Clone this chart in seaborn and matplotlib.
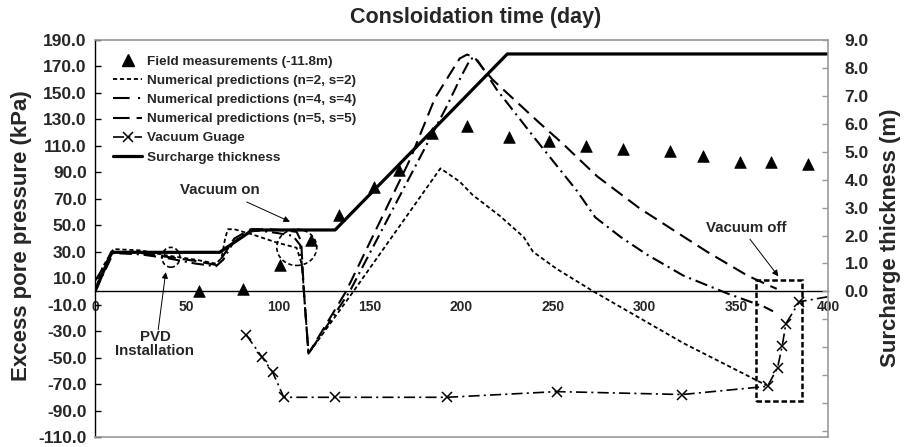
import numpy as np
import pandas as pd
import matplotlib
matplotlib.use("Agg")
import matplotlib.pyplot as plt
from matplotlib.lines import Line2D
from matplotlib.patches import Ellipse, Rectangle
import seaborn as sns

# ---- data -------------------------------------------------------------
field_day = [57, 81, 101, 118, 133, 152, 166, 184, 203, 226, 248, 268, 288, 314, 332, 352, 369, 389]
field_kpa = [0, 2, 20, 39, 58, 79, 92, 120, 125, 117, 114, 110, 108, 106, 102, 98, 98, 96]

n2_day = [0, 4, 10, 25, 40, 55, 66, 69, 71, 72.5, 76, 86, 99, 110, 113, 114.5, 116.5,
          141, 188.5, 199, 206, 221, 234, 239, 252, 272, 321, 366.5]
n2_kpa = [0, 18, 32, 31, 27, 24, 21, 25, 40, 47, 47, 43, 37, 33, 20, -10, -47,
          0, 93, 83, 73, 57, 41, 30, 17, 0, -39, -71]

n4_day = [0, 10, 25, 40, 55, 66, 70, 75, 82, 90, 100, 108, 112, 114, 116.5, 139, 192, 200,
          205, 208, 212, 219, 241, 263, 273, 287, 301, 321, 345, 352, 365, 370]
n4_kpa = [0, 29, 28, 25, 21, 19, 24, 36, 45, 46, 44, 42, 35, 0, -47, 0, 140, 163,
          176, 176, 168, 153, 114, 76, 56, 41, 28, 12, -1.5, -5, -11.5, -15]

n5_day = [0, 10, 25, 40, 55, 66, 70, 76, 85, 95, 105, 110, 112.5, 114, 116.5, 137, 172, 185.5,
          194, 199, 203, 207, 212, 217, 242, 255, 274, 297, 316, 334, 356, 367, 372]
n5_kpa = [8, 30, 29, 26, 23, 20, 27, 40, 47, 47, 46, 45, 38, 0, -47, 0, 100, 146,
          165, 176, 179, 177, 168, 160, 128, 112, 87, 63, 46, 30, 12, 5, 2]

vac_day = [82.4, 91, 97, 103, 131, 192, 252, 320.5, 367, 372.5, 375, 377, 384.4, 400]
vac_kpa = [-32.6, -49.3, -61.2, -80, -80, -80, -75.7, -77.9, -71.7, -57.5, -41.3, -24.4, -7.8, -4]

sur_day = [0, 9, 68, 86, 131, 225, 400]
sur_m = [0, 1.4, 1.4, 2.2, 2.2, 8.5, 8.5]

left_ticks = list(range(-110, 191, 20))
right_ticks = list(range(-5, 10))
x_ticks = list(range(0, 401, 50))

legend_labels = [
    "Field measurements (-11.8m)",
    "Numerical predictions (n=2, s=2)",
    "Numerical predictions (n=4, s=4)",
    "Numerical predictions (n=5, s=5)",
    "Vacuum Guage",
    "Surcharge thickness",
]

# ---- style ------------------------------------------------------------
sns.set_style("white")
plt.rcParams["font.family"] = ["Liberation Sans", "DejaVu Sans"]
plt.rcParams["font.weight"] = "bold"
plt.rcParams["lines.scale_dashes"] = False

K = "black"
GRAY = "#9a9a9a"
S_N2 = (0, (3, 2))
S_N4 = (0, (9, 3.5, 1.5, 3.5))
S_N5 = (0, (10, 5))
S_VAC = (0, (8, 3, 1.5, 3))

fig = plt.figure(figsize=(9.13, 4.47), dpi=100)
ax = fig.add_axes([95 / 913, 10 / 447, 733 / 913, 397 / 447])
ax2 = ax.twinx()

# ---- pore pressure (left axis) ---------------------------------------
sns.lineplot(x=n2_day, y=n2_kpa, ax=ax, sort=False, estimator=None,
             color=K, lw=1.3, linestyle=S_N2)
sns.lineplot(x=n4_day, y=n4_kpa, ax=ax, sort=False, estimator=None,
             color=K, lw=1.5, linestyle=S_N4)
sns.lineplot(x=n5_day, y=n5_kpa, ax=ax, sort=False, estimator=None,
             color=K, lw=1.5, linestyle=S_N5)
sns.lineplot(x=vac_day, y=vac_kpa, ax=ax, sort=False, estimator=None,
             color=K, lw=1.2, linestyle=S_VAC, marker="x", markersize=7,
             markeredgewidth=1.1, markeredgecolor=K,
             markevery=list(range(len(vac_day) - 1)))
sns.scatterplot(x=field_day, y=field_kpa, ax=ax, marker="^", s=70,
                color=K, edgecolor=K, linewidth=0.5, zorder=5)

# ---- surcharge (right axis) ------------------------------------------
sns.lineplot(x=sur_day, y=sur_m, ax=ax2, sort=False, estimator=None,
             color=K, lw=2.3)

# ---- axes ---------------------------------------------------------------
ax.set_xlim(0, 400)
ax.set_ylim(-110, 190)
ax2.set_ylim(-110 * 9 / 190, 9)

ax.set_xticks(x_ticks)
ax.set_xticklabels([str(v) for v in x_ticks], fontsize=9.5, fontweight="bold")
ax.set_yticks(left_ticks)
ax.set_yticklabels([f"{v:.1f}" for v in left_ticks], fontsize=12.5, fontweight="bold")
ax2.set_yticks(right_ticks)
ax2.set_yticklabels([f"{v:.1f}" if v >= 0 else "" for v in right_ticks],
                    fontsize=12.5, fontweight="bold")

ax.spines["bottom"].set_position(("data", 0))
ax.spines["bottom"].set_color(K)
ax.spines["bottom"].set_linewidth(1.0)
ax.spines["left"].set_color(K)
ax.spines["left"].set_linewidth(1.0)
ax.spines["top"].set_visible(False)
ax.spines["right"].set_visible(False)
for side in ("top", "right", "bottom"):
    ax2.spines[side].set_color(GRAY)
    ax2.spines[side].set_linewidth(1.2)
ax2.spines["left"].set_visible(False)

ax.tick_params(axis="x", direction="inout", length=8, width=1, color=GRAY, pad=2)
ax.tick_params(axis="y", direction="in", length=4, width=1, color=K, pad=6)
ax2.tick_params(axis="y", direction="in", length=4, width=1, color=GRAY, pad=12)
ax.set_xlabel("")
ax.set_ylabel("")
ax2.set_ylabel("")

fig.text(22 / 913, 1 - 236 / 447, "Excess pore pressure (kPa)", rotation=90,
         ha="center", va="center", fontsize=16, fontweight="bold")
fig.text(890 / 913, 1 - 238 / 447, "Surcharge thickness (m)", rotation=90,
         ha="center", va="center", fontsize=16, fontweight="bold")
fig.text(476 / 913, 1 - 18 / 447, "Consloidation time (day)",
         ha="center", va="center", fontsize=15.5, fontweight="bold")

# ---- dashed highlight shapes ------------------------------------------
ax.add_patch(Ellipse((41.4, 25.8), 9.8, 15, fill=False, ec=K, lw=1.2,
                     linestyle=(0, (3, 2)), zorder=4))
ax.add_patch(Ellipse((110.1, 33.3), 21.8, 27.4, fill=False, ec=K, lw=1.2,
                     linestyle=(0, (3, 2)), zorder=4))
ax.add_patch(Rectangle((360.8, -83.1), 24.8, 92.0, fill=False, ec=K, lw=1.8,
                       linestyle=(0, (4, 2)), zorder=4))

# ---- annotations --------------------------------------------------------
arrow = dict(arrowstyle="-|>", color=K, lw=0.7, mutation_scale=9, shrinkA=0, shrinkB=0)
ax.annotate("", xy=(106.4, 52.7), xytext=(82.8, 67.6), arrowprops=arrow)
ax.text(68.2, 76.6, "Vacuum on", ha="center", va="center", fontsize=10.8, fontweight="bold")
ax.annotate("", xy=(38.6, 14.6), xytext=(34.5, -28.8), arrowprops=arrow)
ax.text(32.7, -39.5, "PVD\nInstallation", ha="center", va="center", fontsize=10.8,
        fontweight="bold", linespacing=1.0)
ax.annotate("", xy=(372.9, 11.4), xytext=(357.4, 39.5), arrowprops=arrow)
ax.text(355.6, 48.2, "Vacuum off", ha="center", va="center", fontsize=10.8, fontweight="bold")

# ---- legend -------------------------------------------------------------
handles = [
    Line2D([], [], linestyle="none", marker="^", markersize=8, color=K),
    Line2D([], [], color=K, lw=1.3, linestyle=S_N2),
    Line2D([], [], color=K, lw=1.5, linestyle=(0, (12, 6, 1.5, 6))),
    Line2D([], [], color=K, lw=1.5, linestyle=(0, (12, 5, 5, 5))),
    Line2D([], [], color=K, lw=1.2, linestyle=S_VAC, marker="x", markersize=7,
           markeredgewidth=1.1),
    Line2D([], [], color=K, lw=2.3),
]
ax2.legend(handles, legend_labels, loc="upper left", bbox_to_anchor=(0.017, 0.975),
           frameon=False, handlelength=2.2, handletextpad=0.3,
           labelspacing=0.5, borderaxespad=0, borderpad=0.4,
           prop={"weight": "bold", "size": 9.7})

fig.savefig("out.png", dpi=100)
